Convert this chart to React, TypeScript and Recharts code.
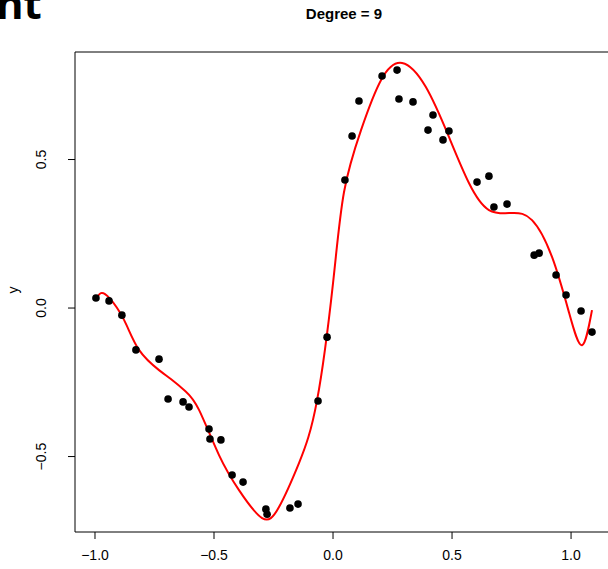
import { ComposedChart, Line, Scatter, XAxis, YAxis, ReferenceArea } from "recharts";

const pointX = [-0.996, -0.941, -0.887, -0.828, -0.731, -0.693, -0.63, -0.605, -0.521, -0.517, -0.471, -0.424, -0.378, -0.282, -0.277, -0.181, -0.147, -0.063, -0.025, 0.05, 0.08, 0.109, 0.206, 0.269, 0.277, 0.336, 0.399, 0.42, 0.462, 0.487, 0.605, 0.655, 0.676, 0.731, 0.845, 0.866, 0.937, 0.979, 1.042, 1.088];
const pointY = [0.034, 0.024, -0.024, -0.141, -0.172, -0.306, -0.316, -0.333, -0.407, -0.441, -0.444, -0.562, -0.586, -0.677, -0.694, -0.673, -0.66, -0.313, -0.098, 0.431, 0.579, 0.697, 0.781, 0.801, 0.704, 0.694, 0.599, 0.65, 0.566, 0.596, 0.424, 0.444, 0.34, 0.35, 0.178, 0.185, 0.111, 0.044, -0.01, -0.081];

const fitX = [-0.996, -0.975, -0.94, -0.878, -0.815, -0.731, -0.68, -0.62, -0.563, -0.479, -0.395, -0.298, -0.227, -0.143, -0.067, 0.0, 0.046, 0.118, 0.202, 0.29, 0.39, 0.487, 0.571, 0.655, 0.752, 0.836, 0.92, 0.992, 1.046, 1.088];
const fitY = [0.03, 0.05, 0.034, -0.04, -0.141, -0.209, -0.24, -0.28, -0.343, -0.495, -0.613, -0.707, -0.67, -0.522, -0.31, 0.084, 0.39, 0.6, 0.768, 0.825, 0.744, 0.576, 0.421, 0.33, 0.32, 0.296, 0.172, -0.017, -0.125, -0.007];

const xTicks = [-1, -0.5, 0, 0.5, 1];
const yTicks = [-0.5, 0, 0.5];

const points = pointX.map((x, i) => ({ x, y: pointY[i] }));
const fit = fitX.map((x, i) => ({ x, y: fitY[i] }));

const font = "Liberation Sans, Arial, sans-serif";

const YTick = (props: any) => {
  const { x, y, payload } = props;
  return (
    <text x={x - 20} y={y} transform={`rotate(-90 ${x - 20} ${y})`} textAnchor="middle" fontSize={14} fontFamily={font} fill="#000">
      {payload.value.toFixed(1).replace("-", "\u2212")}
    </text>
  );
};

const XTick = (props: any) => {
  const { x, y, payload } = props;
  return (
    <text x={x} y={y + 19} textAnchor="middle" fontSize={14} fontFamily={font} fill="#000">
      {payload.value.toFixed(1).replace("-", "\u2212")}
    </text>
  );
};

export default function App() {
  return (
    <div style={{ position: "absolute", left: 0, top: 0, width: 608, height: 569, overflow: "hidden", background: "#fff", fontFamily: font }}>
      <div style={{ position: "absolute", left: -4, top: -26, fontSize: 42, fontWeight: 700, fontFamily: "Open Sans, sans-serif" }}>nt</div>
      <div style={{ position: "absolute", left: 0, width: 688, top: 5, textAlign: "center", fontSize: 15, fontWeight: 700 }}>Degree = 9</div>
      <div style={{ position: "absolute", left: 9, top: 282, transform: "rotate(-90deg)", fontSize: 14 }}>y</div>
      <ComposedChart width={620} height={569} margin={{ top: 52, right: 8, bottom: 0, left: 0 }}>
        <XAxis type="number" dataKey="x" domain={[-1.084, 1.172]} ticks={xTicks} axisLine={false} tickLine={{ stroke: "#000" }} tickSize={7} tick={<XTick />} height={37} allowDataOverflow />
        <YAxis type="number" dataKey="y" domain={[-0.754, 0.862]} ticks={yTicks} axisLine={false} tickLine={{ stroke: "#000" }} tickSize={7} tick={<YTick />} width={75} allowDataOverflow />
        <ReferenceArea x1={-1.084} x2={1.172} y1={-0.754} y2={0.862} stroke="#000" fill="none" strokeWidth={1} ifOverflow="visible" />
        <Line data={fit} dataKey="y" type="natural" stroke="#ff0000" strokeWidth={2} dot={false} isAnimationActive={false} />
        <Scatter data={points} dataKey="y" fill="#000" shape={(p: any) => <circle cx={p.cx} cy={p.cy} r={3.8} fill="#000" />} isAnimationActive={false} />
      </ComposedChart>
    </div>
  );
}
